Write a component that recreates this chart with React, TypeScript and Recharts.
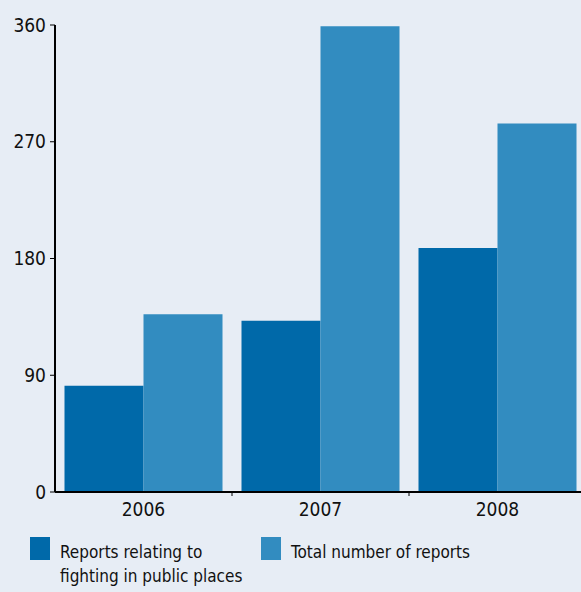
import { BarChart, Bar, XAxis, YAxis } from 'recharts'

const years = ['2006', '2007', '2008']
const fightingReports = [82, 132, 188]
const totalReports = [137, 359, 284]
const yTicks = [0, 90, 180, 270, 360]

const seriesNames = ['Reports relating to\nfighting in public places', 'Total number of reports']
const DARK = '#0069a9'
const LIGHT = '#328cc0'
const BG = '#e7edf5'
const FONT = '"DejaVu Sans Condensed", "Open Sans", sans-serif'

const data = years.map((y, i) => ({ year: y, fighting: fightingReports[i], total: totalReports[i] }))

function YearTick({ x, y, payload, index }: any) {
  const half = 88.5
  return (
    <g>
      {index > 0 && <line x1={x - half} x2={x - half} y1={y - 8} y2={y - 4} stroke="#000" strokeWidth={1} />}
      <text x={x} y={y + 16} textAnchor="middle" fontSize={19} fontFamily={FONT} fill="#111">
        {payload.value}
      </text>
    </g>
  )
}

export default function App() {
  return (
    <div style={{ position: 'fixed', left: 0, top: 0, width: 581, height: 592, background: BG, overflow: 'hidden' }}>
      <BarChart
        width={590}
        height={530}
        data={data}
        margin={{ top: 25, right: 4, left: 0, bottom: 8 }}
        barCategoryGap={9.5}
        barGap={0}
      >
        <XAxis
          dataKey="year"
          height={30}
          axisLine={{ stroke: '#000', strokeWidth: 2 }}
          tickLine={false}
          tick={<YearTick />}
          interval={0}
        />
        <YAxis
          width={55}
          domain={[0, 360]}
          ticks={yTicks}
          axisLine={{ stroke: '#000', strokeWidth: 2 }}
          tickLine={{ stroke: '#000' }}
          tickSize={5}
          tickMargin={4}
          tick={{ fontSize: 19, fontFamily: FONT, fill: '#111' }}
        />
        <Bar dataKey="fighting" fill={DARK} isAnimationActive={false} />
        <Bar dataKey="total" fill={LIGHT} isAnimationActive={false} />
      </BarChart>
      <div style={{ position: 'absolute', left: 30, top: 537, display: 'flex', fontFamily: FONT, fontSize: 17, color: '#111', lineHeight: '24px' }}>
        {seriesNames.map((name, i) => (
          <div key={i} style={{ display: 'flex', alignItems: 'flex-start', width: i === 0 ? 231 : 300 }}>
            <div style={{ width: 20, height: 23, background: i === 0 ? DARK : LIGHT, marginRight: 10, flexShrink: 0 }} />
            <div style={{ whiteSpace: 'pre', marginTop: 3 }}>{name}</div>
          </div>
        ))}
      </div>
    </div>
  )
}
